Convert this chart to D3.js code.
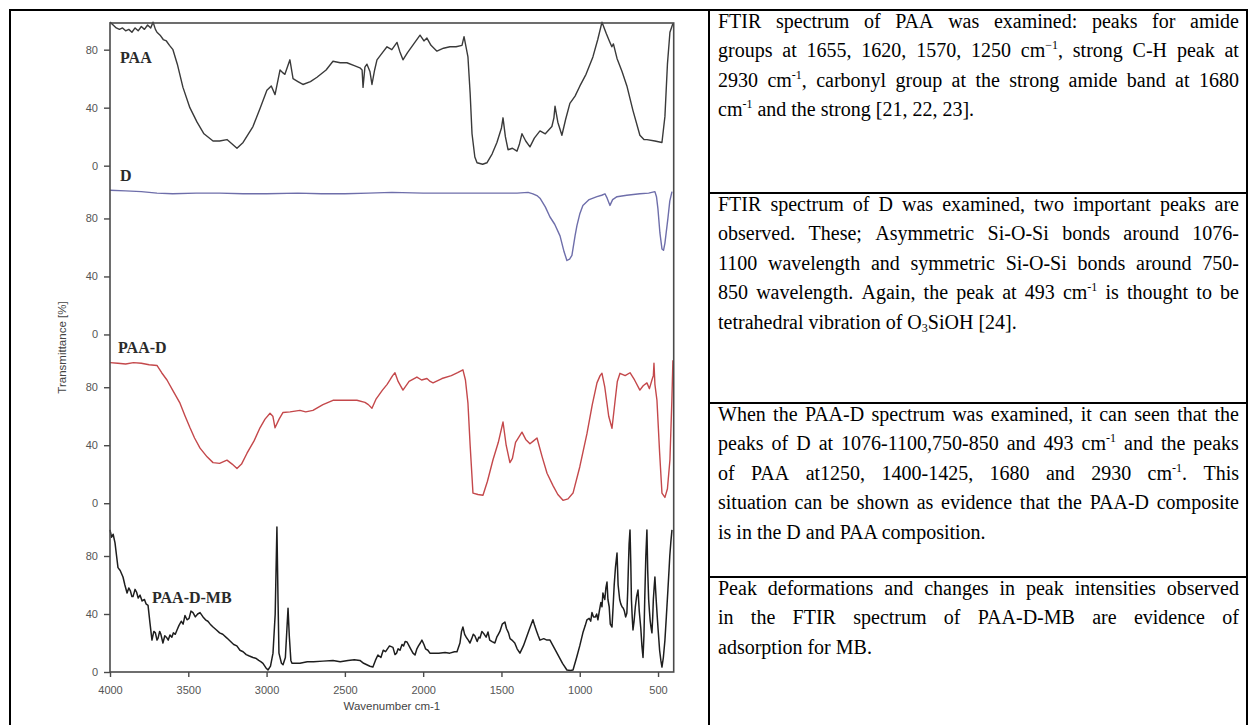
<!DOCTYPE html>
<html>
<head>
<meta charset="utf-8">
<script src="https://cdn.jsdelivr.net/npm/d3@7"></script>
<style>
  body { margin: 0; background: #fff; }
  #page { position: relative; width: 1249px; height: 725px; overflow: hidden; background: #fff; }
  #page svg { position: absolute; left: 0; top: 0; }
  .txt { position: absolute; left: 718px; width: 521px; height: 24px; line-height: 24px;
         font-family: "Liberation Serif", "Times New Roman", serif; font-size: 20px; color: #000; white-space: nowrap; }
  .txt.just { display: flex; justify-content: space-between; }
  .txt.last { white-space: pre; }
  .txt sup { font-size: 12px; line-height: 0; vertical-align: 8px; }
  .txt sub { font-size: 12px; line-height: 0; vertical-align: -3px; }
</style>
</head>
<body>
<div id="page"></div>
<script>
// ---- data ----
const wavenumberTicks = [4000, 3500, 3000, 2500, 2000, 1500, 1000, 500];
const transmittanceTicks = [0, 40, 80];
const seriesNames = ["PAA", "D", "PAA-D", "PAA-D-MB"];

// [wavenumber cm-1, transmittance %]
const paa = [
  [4000,99],[3980,97],[3960,95],[3940,94],[3920,95],[3900,93],[3880,94],[3860,92],[3840,95],[3820,93],
  [3800,96],[3780,94],[3760,97],[3740,95],[3725,99],[3710,94],[3700,92],[3680,90],[3660,87],[3640,86],
  [3620,83],[3598,80],[3570,70],[3534,54],[3490,40],[3444,30],[3400,22],[3342,17],[3300,17],[3253,18],
  [3220,15],[3189,12],[3150,16],[3087,27],[3040,40],[2998,52],[2970,55],[2946,49],[2914,66],[2895,64],
  [2883,63],[2851,73],[2831,60],[2800,58],[2768,56],[2720,58],[2678,61],[2620,66],[2576,72],[2530,71],
  [2487,71],[2440,69],[2404,67.5],[2390,66],[2384,54],[2372,68],[2359,70],[2340,65],[2327,56],[2310,66],
  [2295,73],[2260,78],[2231,82],[2200,80],[2167,85],[2150,79],[2129,73],[2100,78],[2060,84],[2020,90],
  [1995,86],[1976,88],[1950,83],[1912,79],[1870,81],[1829,82],[1790,82],[1752,83],[1739,89],[1714,75],
  [1700,50],[1688,22],[1670,6],[1656,2],[1620,1],[1593,2],[1560,8],[1529,16],[1500,26],[1490,33],
  [1475,20],[1458,11],[1430,12],[1401,10],[1385,15],[1369,22],[1345,17],[1318,13],[1290,19],[1254,24],
  [1220,22],[1178,27],[1165,33],[1158,41],[1140,30],[1114,21],[1090,32],[1063,43],[1030,48],[999,55],
  [960,63],[916,75],[885,87],[858,99],[830,91],[807,85],[795,82],[785,84],[762,74],[730,65],
  [699,55],[660,38],[616,21],[590,18],[571,18],[520,17],[475,16],[456,34],[440,70],[424,92],[405,98]
];

const dSilica = [
  [4000,99.5],[3900,99],[3800,98.5],[3700,97.5],[3600,97],[3450,97.5],[3300,97.5],[3150,97],[3000,97],
  [2800,97.5],[2650,97],[2500,97],[2350,97.5],[2200,98],[2000,97.5],[1800,97.5],[1650,97.5],[1500,97.5],
  [1400,97.5],[1330,98],[1299,97],[1270,95.5],[1254,94],[1220,88],[1190,81],[1160,76],[1126,68],[1100,57],
  [1082,51],[1065,52],[1050,54.5],[1030,68],[1018,75],[1000,83],[980,89],[940,93],[890,95],[860,96],
  [839,97],[825,94],[807,89],[790,93],[762,95],[700,96],[616,97],[560,97.5],[520,98.5],[510,95],
  [501,87],[488,70],[475,59],[465,58],[456,63],[437,80],[425,92],[411,98.5]
];

const paaD = [
  [4000,97],[3950,96.5],[3900,96],[3850,97],[3800,96.5],[3750,95.5],[3700,95],[3670,90],[3636,85],[3600,78],
  [3553,69],[3520,60],[3489,52],[3460,45],[3425,38],[3380,32],[3342,28],[3300,27.5],[3253,29.7],[3220,27],
  [3189,24],[3160,27],[3125,34.5],[3080,43],[3042,52],[3010,58],[2978,62],[2960,60],[2946,52],[2920,58],
  [2895,62.6],[2850,63],[2787,64],[2750,63],[2704,64],[2640,68],[2576,71],[2500,71],[2423,71],[2372,69.6],
  [2350,68],[2327,65.5],[2300,72],[2260,78],[2230,82],[2212,85],[2195,88],[2180,90],[2160,84],[2129,78],
  [2090,84],[2040,87],[2010,85],[1976,86],[1955,84],[1937,83],[1880,86],[1820,88],[1780,90],[1746,92],
  [1730,85],[1714,69],[1700,40],[1682,7],[1650,6],[1618,5.5],[1590,15],[1554,30],[1520,42],[1490,56],
  [1470,40],[1446,28],[1430,31],[1410,42],[1369,49],[1345,44],[1318,41],[1295,43],[1273,45],[1240,32],
  [1209,20.7],[1170,12],[1140,6],[1107,2],[1075,3],[1043,7],[1000,25],[954,48],[920,68],[890,83],
  [870,88],[858,89.6],[840,80],[815,60],[794,51.7],[775,70],[760,84],[743,89.6],[710,88],[679,90],
  [650,85],[616,78],[595,81],[571,83],[555,79],[539,85],[530,88],[526,96.5],[520,82],[507,71],
  [490,35],[475,7],[456,4],[440,10],[424,30],[412,70],[405,98.6]
];

const paaDMB = [
  [4000,98],[3990,93],[3980,95],[3968,89],[3958,80],[3949,72],[3935,70],[3917,65.5],[3905,60],[3891,54.5],
  [3880,58],[3870,56],[3860,52],[3853,52],[3840,57],[3830,55],[3820,51],[3808,53],[3795,49],[3780,50],
  [3770,47],[3757,46],[3745,34],[3732,22],[3720,28],[3710,27],[3700,22],[3693,23.4],[3683,28],[3675,26],
  [3662,20],[3650,25],[3640,24],[3628,22],[3617,25.5],[3605,24],[3595,27],[3583,26],[3572,29],[3560,32],
  [3545,35],[3533,33],[3521,39],[3508,36],[3495,37],[3483,42],[3470,41],[3455,38],[3440,40],[3425,41],
  [3406,38],[3390,36],[3375,35],[3360,33],[3342,31],[3320,29],[3300,27],[3280,26],[3253,23.4],[3230,21],
  [3210,19],[3190,18],[3170,15],[3150,14],[3130,12],[3110,11],[3087,10],[3070,9.5],[3050,8],[3035,7],
  [3023,6],[3005,3],[2991,1.4],[2975,4],[2959,13],[2945,40],[2934,100],[2927,50],[2921,13],[2905,6],
  [2895,5],[2880,10],[2870,30],[2863,44],[2855,25],[2845,8],[2838,6],[2787,6],[2740,7],[2700,7],
  [2640,7.5],[2576,8],[2530,7],[2480,8],[2440,8.5],[2404,8],[2380,6],[2360,5],[2340,4],[2321,3.4],
  [2305,8],[2289,11.7],[2270,10],[2255,15],[2240,14],[2215,18],[2193,17],[2180,12],[2170,13],[2160,16],
  [2148,15],[2135,19],[2125,18],[2115,21],[2103,20.7],[2090,18],[2080,16],[2065,13],[2052,11.7],[2040,16],
  [2030,18],[2018,20],[2008,22],[1995,19],[1985,16],[1970,15],[1957,13],[1930,13],[1900,13],[1860,13.5],
  [1830,13],[1800,14],[1784,14],[1765,20],[1755,28],[1746,31],[1735,26],[1725,24],[1712,22],[1701,20],
  [1690,23],[1680,26],[1670,25],[1655,21],[1645,24],[1637,23.4],[1625,28],[1610,26],[1598,24],[1586,27.6],
  [1575,22],[1560,21],[1542,20],[1530,24],[1520,26],[1510,28],[1495,33],[1478,34.5],[1468,30],[1455,27],
  [1445,23],[1433,22],[1415,20],[1400,16],[1382,13],[1360,18],[1340,24],[1320,30],[1299,36],[1288,32],
  [1275,28],[1265,25],[1254,22],[1230,23],[1210,22],[1190,22],[1165,17],[1140,12],[1110,6],[1082,1.4],
  [1060,1],[1043,1.4],[1020,10],[1000,18],[980,27],[965,32],[954,36],[940,37],[930,35],[922,41],
  [912,38],[900,38],[892,40],[884,36],[875,42],[865,48],[858,45],[852,54.5],[846,52],[840,50],
  [833,58],[826,62],[820,50],[812,45],[805,33],[794,31],[787,45],[780,60],[772,72],[762,82],
  [755,60],[745,50],[738,47],[730,45],[722,44],[715,42],[707,38],[699,40.7],[694,55],[690,70],
  [685,88],[679,98],[674,75],[670,50],[665,38],[660,29],[653,35],[645,45],[637,52],[628,56.5],
  [620,42],[610,30],[603,18],[596,10],[590,25],[585,50],[578,80],[571,98],[566,70],[560,50],
  [555,42],[550,35],[545,31],[539,27],[534,38],[530,50],[525,58],[520,65.5],[512,50],[505,38],
  [500,30],[490,15],[482,8],[475,3.4],[466,10],[456,22],[447,38],[437,56.5],[430,70],[425,80],
  [418,90],[411,98]
];

const seriesData = [paa, dSilica, paaD, paaDMB];

// right-hand table text, line by line as set in the reference
const rowOneLines = [
  "FTIR spectrum of PAA was examined: peaks for amide",
  "groups at 1655, 1620, 1570, 1250 cm<sup>\u22121</sup>, strong C-H peak at",
  "2930 cm<sup>-1</sup>, carbonyl group at the strong amide band at 1680",
  "cm<sup>-1</sup> and the strong [21, 22, 23]."
];
const rowTwoLines = [
  "FTIR spectrum of D was examined, two important peaks are",
  "observed. These; Asymmetric Si-O-Si bonds around 1076-",
  "1100 wavelength and symmetric Si-O-Si bonds around 750-",
  "850 wavelength. Again, the peak at 493 cm<sup>-1</sup> is thought to be",
  "tetrahedral vibration of O<sub>3</sub>SiOH [24]."
];
const rowThreeLines = [
  "When the PAA-D spectrum was examined, it can seen that the",
  "peaks of D at 1076-1100,750-850 and 493 cm<sup>-1</sup> and the peaks",
  "of PAA at1250, 1400-1425, 1680 and 2930 cm<sup>-1</sup>. This",
  "situation can be shown as evidence that the PAA-D composite",
  "is in the D and PAA composition."
];
const rowFourLines = [
  "Peak deformations and changes in peak intensities observed",
  "in the FTIR spectrum of PAA-D-MB are evidence of",
  "adsorption for MB."
];
const tableRows = [rowOneLines, rowTwoLines, rowThreeLines, rowFourLines];

// ---- layout ----
const W = 1249, H = 725;
const tableLeft = 10, tableTop = 10, tableRight = 1247, colSplit = 709;
const rowTops = [10, 193, 403, 577];
const linePitch = 29.5, firstBaseline = 17.5;

const plotLeft = 110, plotRight = 673.7, plotTop = 23, plotBottom = 672;
const panelStep = 116.4;   // transmittance units between stacked panels
const seriesColors = ["#3a3a3a", "#6e6eaa", "#c4484b", "#1e1e1e"];

const page = d3.select("#page");
const svg = page.append("svg").attr("width", W).attr("height", H);

// table frame
const grid = svg.append("g").attr("stroke", "#000").attr("stroke-width", 2).attr("fill", "none");
grid.append("rect")
  .attr("x", tableLeft).attr("y", tableTop)
  .attr("width", tableRight - tableLeft).attr("height", H + 10);
grid.append("line").attr("x1", colSplit).attr("x2", colSplit).attr("y1", tableTop).attr("y2", H + 10);
grid.selectAll(".rowline").data(rowTops.slice(1)).enter().append("line")
  .attr("class", "rowline")
  .attr("x1", colSplit).attr("x2", tableRight)
  .attr("y1", d => d).attr("y2", d => d);

// ---- chart ----
const x = d3.scaleLinear().domain([4000, 400]).range([plotLeft, plotRight]);
const topValue = 3 * panelStep + 98.4;
const y = d3.scaleLinear().domain([0, topValue]).range([plotBottom, plotTop]);
const offsets = seriesNames.map((d, i) => (seriesNames.length - 1 - i) * panelStep);

const chart = svg.append("g");

// curves
const lineGen = off => d3.line().x(d => x(d[0])).y(d => y(d[1] + off));
chart.selectAll(".spectrum").data(seriesData).enter().append("path")
  .attr("class", "spectrum")
  .attr("d", (d, i) => lineGen(offsets[i])(d))
  .attr("fill", "none")
  .attr("stroke", (d, i) => seriesColors[i])
  .attr("stroke-width", (d, i) => i === 3 ? 1.5 : 1.4)
  .attr("stroke-linejoin", "round");

// frame
chart.append("rect")
  .attr("x", plotLeft).attr("y", plotTop)
  .attr("width", plotRight - plotLeft).attr("height", plotBottom - plotTop)
  .attr("fill", "none").attr("stroke", "#4a4a4a").attr("stroke-width", 1.6);

// left axes, one per stacked panel
offsets.forEach(off => {
  const yp = d3.scaleLinear().domain([0, 100]).range([y(off), y(off + 100)]);
  const ax = chart.append("g")
    .attr("transform", `translate(${plotLeft},0)`)
    .call(d3.axisLeft(yp).tickValues(transmittanceTicks).tickSize(6).tickPadding(6));
  ax.select(".domain").remove();
});

// bottom axis
const xAxis = chart.append("g")
  .attr("transform", `translate(0,${plotBottom})`)
  .call(d3.axisBottom(x).tickValues(wavenumberTicks).tickFormat(d3.format("d")).tickSize(5).tickPadding(9));
xAxis.select(".domain").remove();

chart.selectAll(".tick line").attr("stroke", "#4a4a4a").attr("stroke-width", 1.4);
chart.selectAll(".tick text")
  .attr("fill", "#555").style("font-family", "Arial, 'Liberation Sans', sans-serif").style("font-size", "11px");

// axis titles
chart.append("text")
  .attr("x", (plotLeft + plotRight) / 2).attr("y", 710)
  .attr("text-anchor", "middle")
  .style("font-family", "Arial, 'Liberation Sans', sans-serif").style("font-size", "11.5px")
  .attr("fill", "#444").text("Wavenumber cm-1");

chart.append("text")
  .attr("transform", `translate(66,${(plotTop + plotBottom) / 2}) rotate(-90)`)
  .attr("text-anchor", "middle")
  .style("font-family", "Arial, 'Liberation Sans', sans-serif").style("font-size", "11.5px")
  .attr("fill", "#444").text("Transmittance [%]");

// series names inside the plot
const labelSpots = [[3936, 71], [3936, 105.5], [3949, 103.4], [3732, 47.6]];
chart.selectAll(".series-name").data(seriesNames).enter().append("text")
  .attr("class", "series-name")
  .attr("x", (d, i) => x(labelSpots[i][0]))
  .attr("y", (d, i) => y(labelSpots[i][1] + offsets[i]))
  .style("font-family", "'Liberation Serif', 'Times New Roman', serif")
  .style("font-weight", "bold").style("font-size", "16px")
  .attr("fill", "#2a2a2a")
  .text(d => d);

// ---- right column text ----
const BOX_BASE = 18.75; // baseline offset inside a 24px line box at 20px Liberation Serif
tableRows.forEach((lines, r) => {
  lines.forEach((html, k) => {
    const isLast = k === lines.length - 1;
    const div = page.append("div")
      .attr("class", "txt " + (isLast ? "last" : "just"))
      .style("top", (rowTops[r] + firstBaseline + k * linePitch - BOX_BASE) + "px");
    if (isLast) {
      div.html(html);
    } else {
      div.selectAll("span").data(html.split(/\s+/)).enter().append("span").html(d => d);
    }
  });
});
</script>
</body>
</html>
